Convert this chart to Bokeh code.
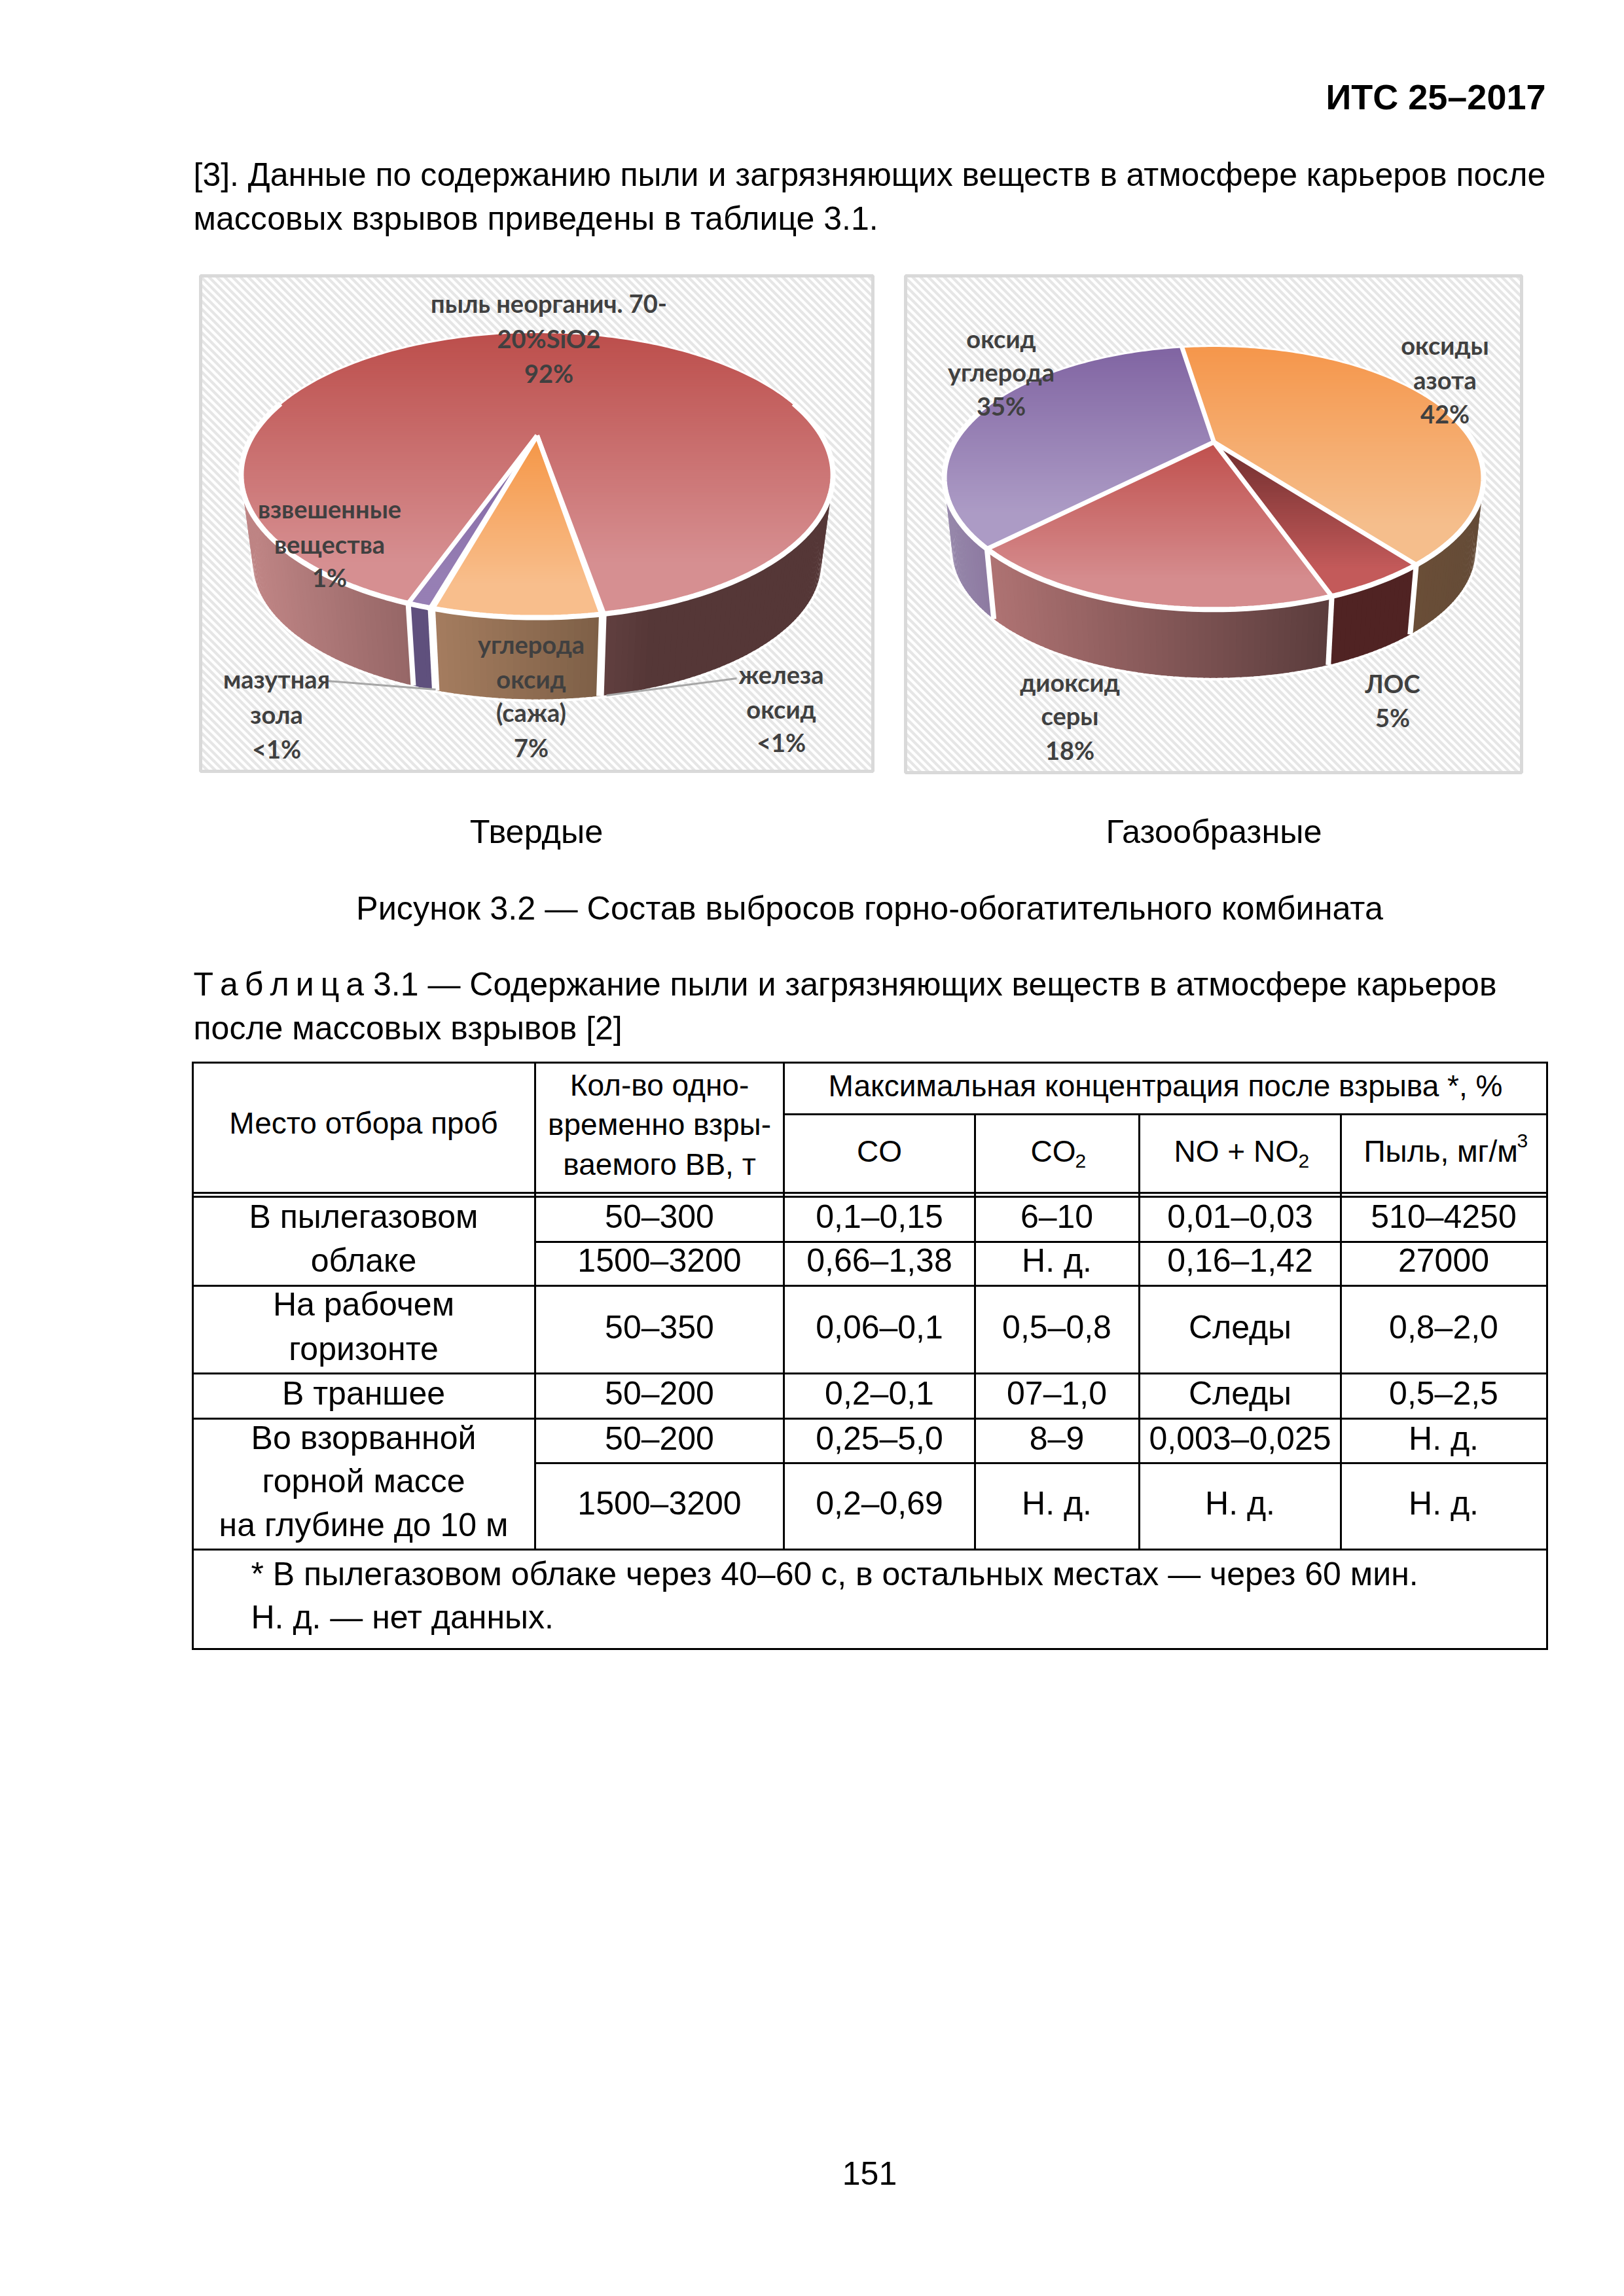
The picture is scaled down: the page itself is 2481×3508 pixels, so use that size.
import math
from bokeh.plotting import figure
from bokeh.models import Range1d
from bokeh.embed import file_html
from bokeh.resources import INLINE
from bokeh.core.properties import value

# ---------- data ----------
solid_names = ["пыль неорганич.", "железа оксид", "углерода оксид (сажа)", "мазутная зола", "взвешенные вещества"]
solid_values = [92, 0.1, 7, 0.1, 1]
solid_face_top = ["#bc4e4b", "#bc4e4b", "#f59646", "#806aa2", "#8064a2"]
solid_face_bot = ["#d68f91", "#d68f91", "#f8be8c", "#967fb4", "#967fb4"]
solid_wall_left = ["#be8484", "#6a4646", "#a57d5f", "#5f5080", "#5f507d"]
solid_wall_right = ["#553737", "#553737", "#7d5f46", "#5f5080", "#5f507d"]

gas_names = ["оксиды азота", "ЛОС", "диоксид серы", "оксид углерода"]
gas_values = [42, 5, 18, 35]
gas_face_top = ["#f5964b", "#6e2d2d", "#c0504d", "#8064a2"]
gas_face_bot = ["#f5be8c", "#c35a5a", "#d58c8e", "#ac9bc5"]
gas_wall_left = ["#6a4e37", "#502323", "#af7373", "#9687aa"]
gas_wall_right = ["#644b37", "#502323", "#5a3c3c", "#8c78a0"]

solid_labels = ["пыль неорганич. 70-", "20%SiO2", "92%", "взвешенные", "вещества", "1%", "мазутная", "зола", "<1%",
                "углерода", "оксид", "(сажа)", "7%", "железа", "оксид", "<1%"]
gas_labels = ["оксид", "углерода", "35%", "оксиды", "азота", "42%", "диоксид", "серы", "18%", "ЛОС", "5%"]

header_title = "ИТС 25–2017"
para_lines = ["[3]. Данные по содержанию пыли и загрязняющих веществ в атмосфере карьеров после",
              "массовых взрывов приведены в таблице 3.1."]
captions = ["Твердые", "Газообразные"]
figure_caption = "Рисунок 3.2 — Состав выбросов горно-обогатительного комбината"
table_title = ["Т\u2009а\u2009б\u2009л\u2009и\u2009ц\u2009а 3.1 — Содержание пыли и загрязняющих веществ в атмосфере карьеров",
               "после массовых взрывов [2]"]
col0_lines = ["В пылегазовом", "облаке", "На рабочем", "горизонте", "В траншее", "Во взорванной", "горной массе", "на глубине до 10 м"]
col1_cells = ["50–300", "1500–3200", "50–350", "50–200", "50–200", "1500–3200"]
co_cells = ["0,1–0,15", "0,66–1,38", "0,06–0,1", "0,2–0,1", "0,25–5,0", "0,2–0,69"]
co2_cells = ["6–10", "Н. д.", "0,5–0,8", "07–1,0", "8–9", "Н. д."]
no_cells = ["0,01–0,03", "0,16–1,42", "Следы", "Следы", "0,003–0,025", "Н. д."]
dust_cells = ["510–4250", "27000", "0,8–2,0", "0,5–2,5", "Н. д.", "Н. д."]
notes = ["* В пылегазовом облаке через 40–60 с, в остальных местах — через 60 мин.", "Н. д. — нет данных."]
page_number = "151"

# ---------- canvas in the page's own pixels ----------
p = figure(width=2465, height=3492, x_range=Range1d(0, 2465), y_range=Range1d(3492, 0),
           toolbar_location=None, output_backend="svg", min_border=0, outline_line_color=None,
           background_fill_color="white", border_fill_color="white")
p.axis.visible = False
p.grid.visible = False

texts = {}
def T(x, y, s, size=50, align="center", style="normal", font="Liberation Sans", color="#000000"):
    k = (size, align, style, font, color)
    d = texts.setdefault(k, dict(x=[], y=[], t=[]))
    d["x"].append(x); d["y"].append(y); d["t"].append(s)

def rgb(h):
    return tuple(int(h[i:i + 2], 16) for i in (1, 3, 5))
def mix(a, b, f):
    f = max(0, min(1, f))
    ca, cb = rgb(a), rgb(b)
    return "#%02x%02x%02x" % tuple(round(ca[i] + (cb[i] - ca[i]) * f) for i in range(3))

def clip(poly, y0, y1):
    def half(pts, lim, keep_below):
        out = []
        n = len(pts)
        for i in range(n):
            a, b = pts[i], pts[(i + 1) % n]
            ina = a[1] >= lim if keep_below else a[1] <= lim
            inb = b[1] >= lim if keep_below else b[1] <= lim
            if ina:
                out.append(a)
            if ina != inb:
                f = (lim - a[1]) / (b[1] - a[1])
                out.append((a[0] + (b[0] - a[0]) * f, lim))
        return out
    r = half(poly, y0, True)
    return half(r, y1, False) if r else r

def hatch_panel(x0, y0, x1, y1):
    xs0, ys0, xs1, ys1 = [], [], [], []
    c = x0 - y1
    while c < x1 - y0:
        a = max(x0, y0 + c); b = min(x1, y1 + c)
        if b > a:
            xs0.append(a); ys0.append(a - c); xs1.append(b); ys1.append(b - c)
        c += 12
    p.segment(xs0, ys0, xs1, ys1, line_color="#e6e6e6", line_width=4.2)
    p.quad(left=[x0], right=[x1], top=[y0], bottom=[y1], fill_color=None, line_color="#d9d9d9", line_width=5)

def pie(values, start, face_top, face_bot, wall_l, wall_r, cx, ay, R, S, f, scale, shift, wall_end=1.0):
    def rim(t, h):
        u, v = math.sin(math.radians(t)), math.cos(math.radians(t))
        w = f / (f + v)
        s = 1 - h * (1 - scale)
        return cx + s * R * u * w, ay + h * shift - s * S * v * w
    total = sum(values)
    edges = [start]
    for val in values:
        edges.append(edges[-1] + 360 * val / total)
    def arc(t0, t1, h):
        n = max(2, int(abs(t1 - t0)) + 2)
        return [rim(t0 + (t1 - t0) * i / (n - 1), h) for i in range(n)]
    # white halo under the wall
    front_low = arc(70, 290, 1)
    p.line([q[0] for q in front_low], [q[1] for q in front_low], line_color="white", line_width=8)
    # walls
    xs, ys, cols = [], [], []
    xl = rim(270, 0)[0]; xr = rim(90, 0)[0]
    for i in range(len(values)):
        t0, t1 = edges[i], edges[i + 1]
        pts = [t0 + (t1 - t0) * k / max(1, int(abs(t1 - t0))) for k in range(max(1, int(abs(t1 - t0))) + 1)]
        vis = [math.cos(math.radians(t)) < 0.35 for t in pts]
        front = [q for q, o in zip(pts, vis) if o]
        if len(front) < 2:
            continue
        x_lo = min(rim(t, 0)[0] for t in front); x_hi = max(rim(t, 0)[0] for t in front)
        if values[i] > 50:
            x_lo, x_hi = xl, xl + (xr - xl) * wall_end
        for a, b in zip(pts[:-1], pts[1:]):
            if math.cos(math.radians(a)) >= 0.35 or math.cos(math.radians(b)) >= 0.35:
                continue
            b2 = b + (0.3 if b < t1 else 0)
            q0, q1, q2, q3 = rim(a, 0), rim(b2, 0), rim(b2, 1), rim(a, 1)
            mx = (q0[0] + q1[0]) / 2
            fr = (mx - x_lo) / max(1, x_hi - x_lo)
            xs.append([q0[0], q1[0], q2[0], q3[0]]); ys.append([q0[1], q1[1], q2[1], q3[1]])
            cols.append(mix(wall_l[i], wall_r[i], fr))
    p.patches(xs, ys, fill_color=cols, line_color=None)
    # wall separators
    for t in edges[:-1]:
        if math.cos(math.radians(t)) < 0.35:
            a, b = rim(t, 0), rim(t, 1)
            p.line([a[0], b[0]], [a[1], b[1]], line_color="white", line_width=8)
    # top faces, vertical gradient per slice
    xs, ys, cols = [], [], []
    for i in range(len(values)):
        poly = [(cx, ay)] + arc(edges[i], edges[i + 1], 0)
        y_lo = min(q[1] for q in poly); y_hi = max(q[1] for q in poly)
        y = y_lo
        while y < y_hi:
            c = clip(poly, y, y + 3.7)
            if len(c) >= 3:
                xs.append([q[0] for q in c]); ys.append([q[1] for q in c])
                cols.append(mix(face_top[i], face_bot[i], (y + 1.5 - y_lo) / max(1, y_hi - y_lo) / 0.82))
            y += 3
    p.patches(xs, ys, fill_color=cols, line_color=None)
    # white rim: thin behind, thick in front; spokes
    back = arc(-75, 75, 0)
    p.line([q[0] for q in back], [q[1] for q in back], line_color="white", line_width=3)
    front_top = arc(75, 285, 0)
    p.line([q[0] for q in front_top], [q[1] for q in front_top], line_color="white", line_width=8)
    for t in edges[:-1]:
        a = rim(t, 0)
        p.line([cx, a[0]], [ay, a[1]], line_color="white", line_width=7)

# ---------- panels and pies ----------
hatch_panel(306, 421, 1333, 1178)
hatch_panel(1383, 421, 2324, 1180)
pie(solid_values, 199.6, solid_face_top, solid_face_bot, solid_wall_left, solid_wall_right,
    cx=820, ay=665, R=434.6, S=201.5, f=3.63, scale=0.96, shift=136, wall_end=0.7)
pie(gas_values, 351.0, gas_face_top, gas_face_bot, gas_wall_left, gas_wall_right,
    cx=1854, ay=675, R=396.6, S=186.7, f=3.70, scale=0.97, shift=112)

# leader lines
p.line([500, 665], [1040, 1053], line_color="#a6a6a6", line_width=3)
p.line([1125, 926], [1036, 1062], line_color="#a6a6a6", line_width=3)

# pie labels
solid_pos = [(838, 466), (838, 520), (838, 573), (503, 780), (503, 834), (503, 885), (422, 1040), (422, 1094), (422, 1147),
             (811, 987), (811, 1040), (811, 1091), (811, 1145), (1193, 1033), (1193, 1086), (1193, 1137)]
gas_pos = [(1529, 520), (1529, 571), (1529, 623), (2207, 530), (2207, 583), (2207, 635), (1634, 1045), (1634, 1096), (1634, 1149),
           (2127, 1047), (2127, 1099)]
for s, (x, y) in list(zip(solid_labels, solid_pos)) + list(zip(gas_labels, gas_pos)):
    T(x, y - 4, s, size=38, style="bold", font="Lato", color="#404040")

# ---------- page text ----------
T(2361, 147, header_title, size=54, align="right", style="bold")
T(295, 266, para_lines[0], align="left")
T(295, 333, para_lines[1], align="left")
T(819, 1270, captions[0], size=50.4); T(1854, 1270, captions[1], size=50.4)
T(1328, 1387, figure_caption, size=50.4)
T(295, 1503, table_title[0], align="left")
T(295, 1570, table_title[1], align="left")
T(1328, 3320, page_number)

# ---------- table ----------
xv = [294, 817, 1197, 1489, 1740, 2048, 2363]
yt, ym, yd1, yd2, yb = 1623, 1702, 1822, 1828, 2519
r = [1897, 1964, 2098, 2167, 2235, 2367]
hl = [(xv[0], xv[6], yt), (xv[2], xv[6], ym), (xv[0], xv[6], yd1), (xv[0], xv[6], yd2), (xv[1], xv[6], r[0]),
      (xv[0], xv[6], r[1]), (xv[0], xv[6], r[2]), (xv[0], xv[6], r[3]), (xv[1], xv[6], r[4]), (xv[0], xv[6], r[5]), (xv[0], xv[6], yb)]
p.segment([h[0] - 1.5 for h in hl], [h[2] for h in hl], [h[1] + 1.5 for h in hl], [h[2] for h in hl], line_color="black", line_width=3)
vl = [(xv[0], yt, yb), (xv[1], yt, r[5]), (xv[2], yt, r[5]), (xv[3], ym, r[5]), (xv[4], ym, r[5]), (xv[5], ym, r[5]), (xv[6], yt, yb)]
p.segment([v[0] for v in vl], [v[1] for v in vl], [v[0] for v in vl], [v[2] for v in vl], line_color="black", line_width=3)

H = 46
T(555, 1715, "Место отбора проб", size=H)
for s, y in zip(["Кол-во одно-", "временно взры-", "ваемого ВВ, т"], [1657, 1717, 1778]):
    T(1007, y, s, size=H)
T(1780, 1658, "Максимальная концентрация после взрыва *, %", size=H)
T(1343, 1758, "CO", size=H)
T(1574, 1758, "CO", size=H, align="left"); T(1642, 1773, "2", size=30, align="left")
T(1793, 1758, "NO + NO", size=H, align="left"); T(1983, 1773, "2", size=30, align="left")
T(2083, 1758, "Пыль, мг/м", size=H, align="left"); T(2317, 1742, "3", size=30, align="left")

col0_y = [1858, 1925, 1992, 2060, 2128, 2196, 2262, 2329]
for s, y in zip(col0_lines, col0_y):
    T(555, y, s)
row_y = [1858, 1925, 2027, 2128, 2197, 2296]
for x, cells in zip([1007, 1343, 1614, 1894, 2205], [col1_cells, co_cells, co2_cells, no_cells, dust_cells]):
    for s, y in zip(cells, row_y):
        T(x, y, s)
T(383, 2404, notes[0], align="left")
T(383, 2470, notes[1], align="left")

for (size, align, style, font, color), d in texts.items():
    p.text(d["x"], d["y"], text=d["t"], text_font=value(font), text_font_size=f"{size}px", text_align=align,
           text_baseline="middle", text_font_style=style, text_color=color)

open("out.html", "w").write(file_html(p, INLINE))
